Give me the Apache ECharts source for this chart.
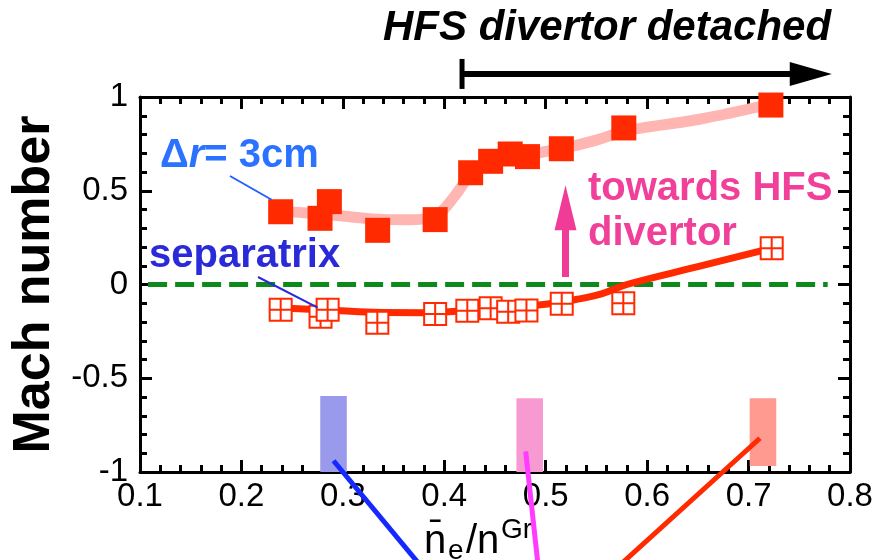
<!DOCTYPE html>
<html><head><meta charset="utf-8">
<script src="https://cdn.jsdelivr.net/npm/echarts@6/dist/echarts.min.js"></script>
<style>html,body{margin:0;padding:0;background:#fff}#c{width:881px;height:560px}</style>
</head><body><div id="c"></div>
<script>
// ---- data ----
const xTickValues = [0.1, 0.2, 0.3, 0.4, 0.5, 0.6, 0.7, 0.8];
const yTickValues = [-1, -0.5, 0, 0.5, 1];

// Δr = 3cm (filled squares)
const outerX = [0.2387, 0.2775, 0.2867, 0.3343, 0.391, 0.426, 0.4457, 0.465, 0.482, 0.5154, 0.577, 0.722];
const outerY = [0.388, 0.353, 0.442, 0.289, 0.346, 0.596, 0.657, 0.696, 0.682, 0.724, 0.835, 0.957];
// separatrix (open squares)
const sepX = [0.2387, 0.278, 0.285, 0.334, 0.391, 0.4227, 0.4457, 0.463, 0.481, 0.5158, 0.5765, 0.7228];
const sepY = [-0.134, -0.172, -0.134, -0.204, -0.157, -0.140, -0.127, -0.145, -0.138, -0.102, -0.100, 0.193];
// trend curves
const outerFitX = [0.24, 0.27, 0.30, 0.33, 0.36, 0.38, 0.395, 0.41, 0.425, 0.44, 0.46, 0.49, 0.52, 0.55, 0.58, 0.65, 0.72];
const outerFitY = [0.39, 0.38, 0.365, 0.35, 0.345, 0.35, 0.38, 0.47, 0.58, 0.64, 0.68, 0.70, 0.73, 0.77, 0.82, 0.88, 0.96];
const sepFitX = [0.24, 0.28, 0.33, 0.38, 0.42, 0.46, 0.50, 0.53, 0.555, 0.58, 0.65, 0.72];
const sepFitY = [-0.125, -0.135, -0.148, -0.15, -0.14, -0.125, -0.105, -0.08, -0.05, 0.0, 0.095, 0.19];
// zero reference line extent
const zeroLineX = [0.108, 0.778];
const zeroLineY = [0, 0];
// shaded bars
const barX = [0.2908, 0.4842, 0.7142];
const barTop = [-0.595, -0.607, -0.607];
const barBottom = [-1, -1, -0.968];

// ---- styles ----
const barColors = ['#9a9aec', '#f89ad2', '#ff9a90'];
const RED = '#ff2a00';
const FONT = '"Liberation Sans", Arial, sans-serif';
const BAR_W = 0.0262;

const chart = echarts.init(document.getElementById('c'));

function axisCommon(showLabel, pos) {
  return {
    type: 'value', position: pos,
    axisLine: { show: true, onZero: false, lineStyle: { color: '#000', width: 3 } },
    axisTick: { show: true, inside: true, length: 12, lineStyle: { color: '#000', width: 3 } },
    minorTick: { show: true, splitNumber: 5, length: 7, lineStyle: { color: '#000', width: 3 } },
    splitLine: { show: false }, minorSplitLine: { show: false },
    axisLabel: { show: showLabel, color: '#000', fontSize: 33, fontFamily: FONT }
  };
}
const xb = axisCommon(true, 'bottom');
Object.assign(xb, { min: xTickValues[0], max: xTickValues[xTickValues.length - 1], interval: 0.1 });
xb.axisLabel.margin = 8;
xb.axisLabel.formatter = v => String(+v.toFixed(1));
const xt = axisCommon(false, 'top');
Object.assign(xt, { min: xTickValues[0], max: xTickValues[xTickValues.length - 1], interval: 0.1 });
const yl = axisCommon(true, 'left');
Object.assign(yl, { min: yTickValues[0], max: yTickValues[yTickValues.length - 1], interval: 0.5,
  name: 'Mach number', nameLocation: 'middle', nameRotate: 90, nameGap: 78,
  nameTextStyle: { fontSize: 52, fontWeight: 'bold', color: '#000', fontFamily: FONT } });
yl.axisLabel.margin = 12;
yl.axisLabel.formatter = v => String(+v.toFixed(1));
const yr = axisCommon(false, 'right');
Object.assign(yr, { min: yTickValues[0], max: yTickValues[yTickValues.length - 1], interval: 0.5 });

const zip = (a, b) => a.map((v, i) => [v, b[i]]);

chart.setOption({
  animation: false,
  backgroundColor: '#fff',
  grid: { left: 140, right: 31, top: 97, bottom: 88 },
  xAxis: [xb, xt],
  yAxis: [yl, yr],
  series: [
    {
      type: 'custom', z: 1,
      data: barX.map((x, i) => [x, barTop[i], barBottom[i]]),
      renderItem: (params, api) => {
        const x = api.value(0), t = api.value(1), b = api.value(2);
        const p1 = api.coord([x - BAR_W / 2, t]);
        const p2 = api.coord([x + BAR_W / 2, b]);
        return { type: 'rect', shape: { x: p1[0], y: p1[1], width: p2[0] - p1[0], height: p2[1] - p1[1] },
          style: { fill: barColors[params.dataIndex] } };
      }
    },
    {
      type: 'line', z: 2, data: zip(zeroLineX, zeroLineY), showSymbol: false, symbol: 'none',
      lineStyle: { color: '#0e8a1c', width: 5, type: [19, 8] }
    },
    {
      type: 'line', z: 3, data: zip(outerFitX, outerFitY), smooth: 0.4, showSymbol: false, symbol: 'none',
      lineStyle: { color: '#ffb6b2', width: 11, cap: 'round' }
    },
    {
      type: 'line', z: 3, data: zip(sepFitX, sepFitY), smooth: 0.4, showSymbol: false, symbol: 'none',
      lineStyle: { color: RED, width: 7, cap: 'round' }
    },
    {
      type: 'scatter', z: 5, data: zip(outerX, outerY), symbol: 'rect', symbolSize: 25,
      itemStyle: { color: RED, opacity: 1 }
    },
    {
      type: 'scatter', z: 6, data: zip(sepX, sepY), symbol: 'path://M0,0H10V10H0ZM5,0V10M0,5H10', symbolSize: 22,
      itemStyle: { color: '#fff', borderColor: RED, borderWidth: 2, opacity: 1 }
    }
  ]
});

// ---- annotations anchored to data coordinates ----
const px = (x, y) => chart.convertToPixel({ gridIndex: 0 }, [x, y]);
const a0 = px(0.4175, 1.123), a1 = px(0.782, 1.123);
const g = [];
// black "detached" arrow
g.push({ type: 'line', shape: { x1: a0[0], y1: a0[1] - 15, x2: a0[0], y2: a0[1] + 15 }, style: { stroke: '#000', lineWidth: 5 }, z: 50 });
g.push({ type: 'line', shape: { x1: a0[0], y1: a0[1], x2: a1[0] - 36, y2: a1[1] }, style: { stroke: '#000', lineWidth: 6 }, z: 50 });
g.push({ type: 'polygon', shape: { points: [[a1[0] - 42, a1[1] - 12], [a1[0], a1[1]], [a1[0] - 42, a1[1] + 12]] }, style: { fill: '#000' }, z: 50 });
g.push({ type: 'text', left: 383, top: 7, style: { text: 'HFS divertor detached', fontSize: 42, fontWeight: 'bold', fontStyle: 'italic', fill: '#000', fontFamily: FONT }, z: 50 });

// magenta arrow
const m0 = px(0.5195, 0.04), m1 = px(0.5195, 0.53);
g.push({ type: 'line', shape: { x1: m0[0], y1: m0[1], x2: m1[0], y2: m1[1] + 40 }, style: { stroke: '#f03c96', lineWidth: 7 }, z: 50 });
g.push({ type: 'polygon', shape: { points: [[m1[0] - 11, m1[1] + 45], [m1[0], m1[1]], [m1[0] + 11, m1[1] + 45]] }, style: { fill: '#f03c96' }, z: 50 });
g.push({ type: 'text', left: 588, top: 166, style: { text: 'towards HFS\ndivertor', fontSize: 40, lineHeight: 45, fontWeight: 'bold', fill: '#f0409a', fontFamily: FONT }, z: 50 });

// Δr label
g.push({ type: 'text', left: 160, top: 136, style: { text: '{a|Δ}{b|r}{a|= 3cm}', fill: '#1f6bff', fontFamily: FONT,
  rich: { a: { fontSize: 40, fontWeight: 'bold', fill: '#2a72ff', fontFamily: FONT }, b: { fontSize: 40, fontWeight: 'bold', fontStyle: 'italic', fill: '#2a72ff', fontFamily: FONT } } }, z: 50 });
const d0 = px(0.2387, 0.388);
g.push({ type: 'line', shape: { x1: 230, y1: 176, x2: d0[0] - 9, y2: d0[1] - 12 }, style: { stroke: '#2060ff', lineWidth: 2 }, z: 50 });
// separatrix label
g.push({ type: 'text', left: 149, top: 236, style: { text: 'separatrix', fontSize: 40, fontWeight: 'bold', fill: '#2a2ad8', fontFamily: FONT }, z: 50 });
const s0 = px(0.285, -0.134);
g.push({ type: 'line', shape: { x1: 258, y1: 277, x2: s0[0] - 10, y2: s0[1] - 2 }, style: { stroke: '#2a2ad8', lineWidth: 2 }, z: 50 });

// x-axis title
g.push({ type: 'text', left: 424, top: 522, style: { text: 'n\u0304', fontSize: 40, fill: '#000', fontFamily: FONT }, z: 40 });
g.push({ type: 'text', left: 448, top: 537, style: { text: 'e', fontSize: 28, fill: '#000', fontFamily: FONT }, z: 40 });
g.push({ type: 'text', left: 466, top: 522, style: { text: '/n', fontSize: 40, fill: '#000', fontFamily: FONT }, z: 40 });
g.push({ type: 'text', left: 501, top: 516, style: { text: 'Gr', fontSize: 28, fill: '#000', fontFamily: FONT }, z: 40 });

// pointer lines from bars
const b0 = px(barX[0], -0.94), b1 = px(barX[1], -0.89), b2 = px(barX[2] - 0.003, -0.82);
g.push({ type: 'line', shape: { x1: b0[0], y1: b0[1], x2: 420, y2: 565 }, style: { stroke: '#1428ff', lineWidth: 5 }, z: 60 });
g.push({ type: 'line', shape: { x1: b1[0] - 4, y1: b1[1], x2: 538, y2: 565 }, style: { stroke: '#ff3cff', lineWidth: 5 }, z: 60 });
g.push({ type: 'line', shape: { x1: b2[0], y1: b2[1], x2: 620, y2: 565 }, style: { stroke: RED, lineWidth: 5 }, z: 60 });

chart.setOption({ graphic: { elements: g } });
</script></body></html>
